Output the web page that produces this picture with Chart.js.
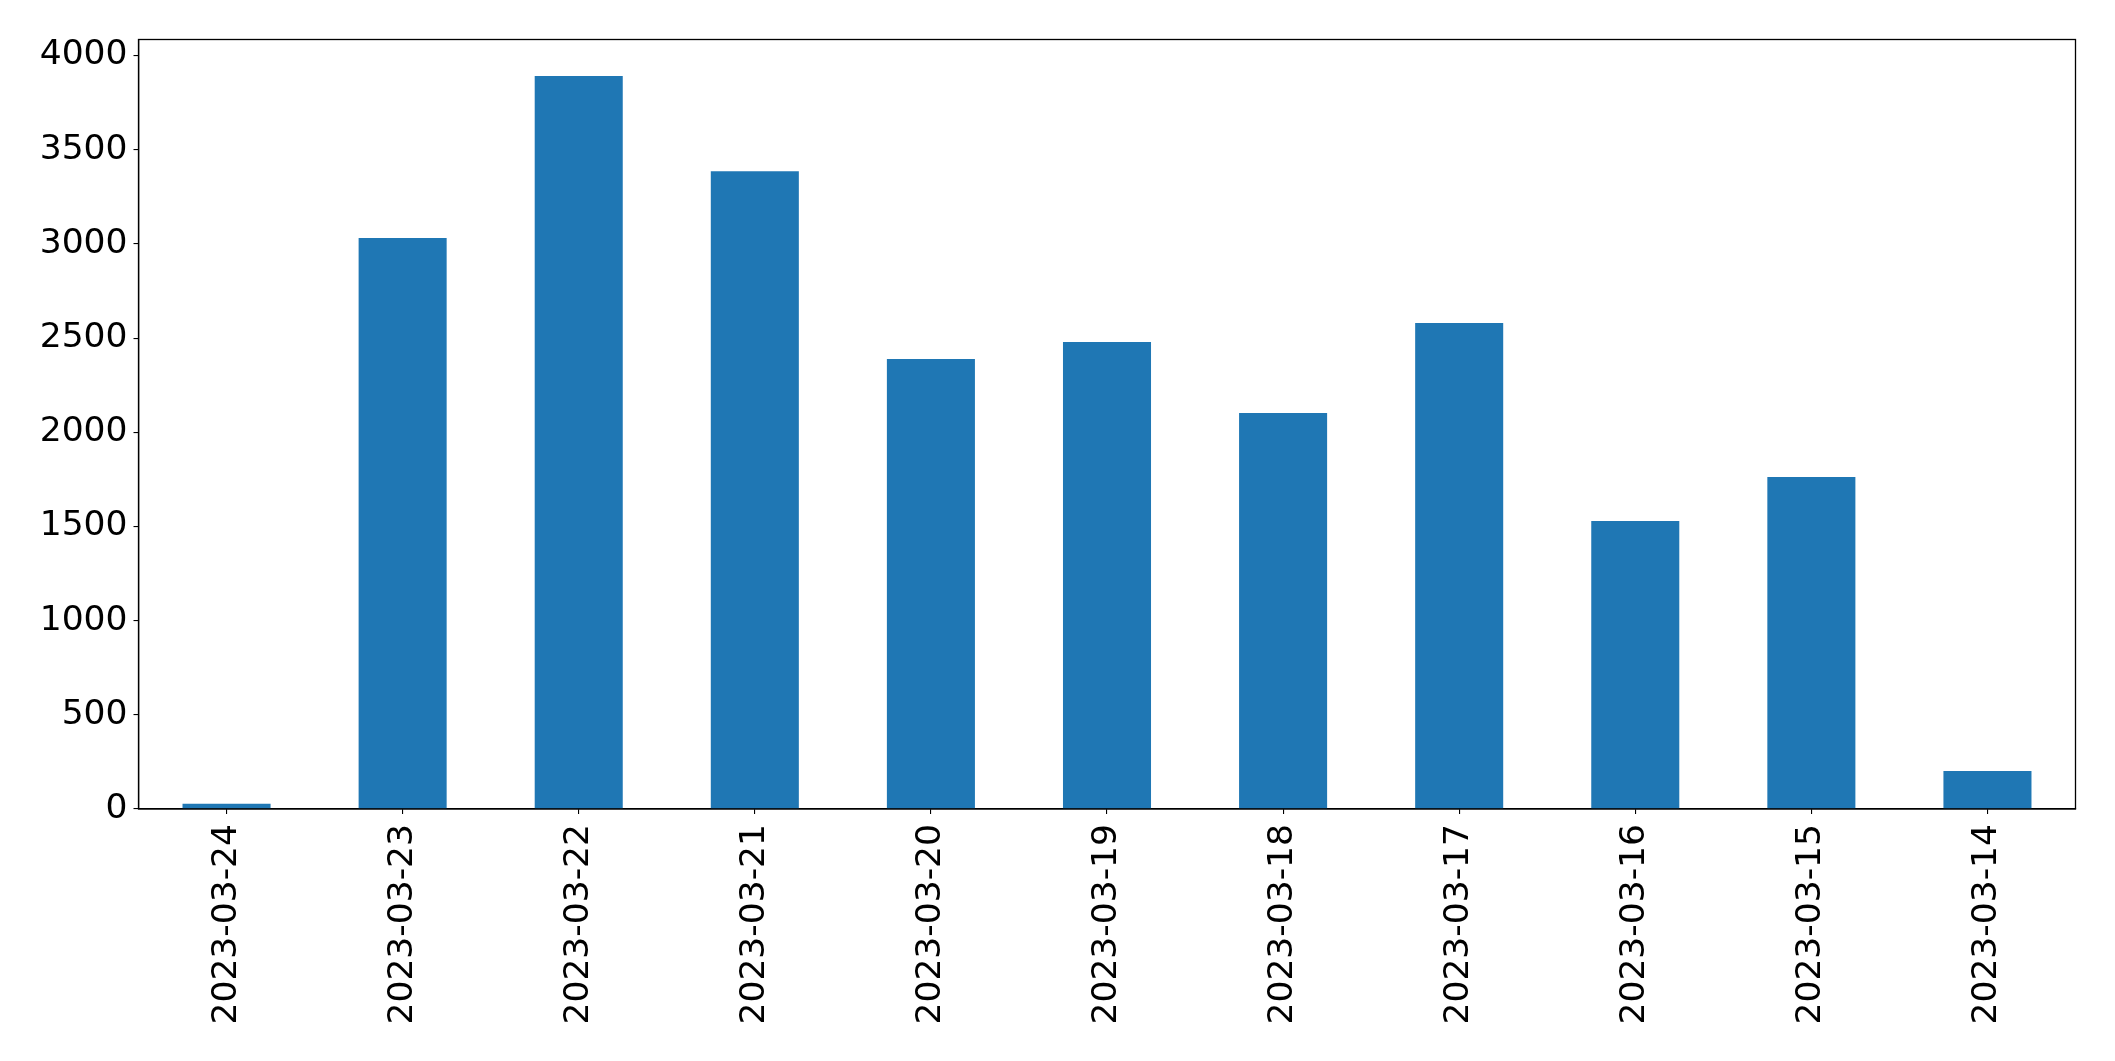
<!DOCTYPE html>
<html>
<head>
<meta charset="utf-8">
<script src="https://cdn.jsdelivr.net/npm/chart.js@4.4.0/dist/chart.umd.min.js"></script>
<style>
  html, body { margin: 0; padding: 0; background: #fff; }
  canvas { display: block; }
</style>
</head>
<body>
<canvas id="c" width="2115" height="1061"></canvas>
<script>
const categories = ["2023-03-24","2023-03-23","2023-03-22","2023-03-21","2023-03-20","2023-03-19","2023-03-18","2023-03-17","2023-03-16","2023-03-15","2023-03-14"];
const counts = [28, 3031, 3891, 3386, 2389, 2479, 2102, 2580, 1529, 1762, 202];
const yTicks = [0, 500, 1000, 1500, 2000, 2500, 3000, 3500, 4000];
const yMax = 4085;

const frame = {
  id: 'frame',
  afterDatasetsDraw(chart) {
    const a = chart.chartArea, ctx = chart.ctx;
    ctx.save();
    ctx.strokeStyle = '#000';
    ctx.lineWidth = 1.3;
    ctx.strokeRect(a.left, a.top, a.right - a.left, a.bottom - a.top);
    ctx.restore();
  }
};

Chart.defaults.color = '#000';
Chart.defaults.font.family = 'DejaVu Sans';

new Chart(document.getElementById('c'), {
  type: 'bar',
  data: {
    labels: categories,
    datasets: [{
      data: counts,
      backgroundColor: '#1f77b4',
      borderWidth: 0,
      categoryPercentage: 1.0,
      barPercentage: 0.5
    }]
  },
  options: {
    responsive: false,
    animation: false,
    devicePixelRatio: 1,
    layout: { padding: { top: 39.5, right: 39.5, left: 0, bottom: 0 } },
    plugins: { legend: { display: false }, tooltip: { enabled: false } },
    scales: {
      x: {
        offset: true,
        grid: { display: true, offset: false, drawOnChartArea: false, tickLength: 5, color: '#000', lineWidth: 1.1 },
        border: { display: true, color: '#000', width: 1.3 },
        ticks: { font: { size: 34.5 }, maxRotation: 90, minRotation: 90, padding: 10, autoSkip: false, color: '#000' },
        afterFit(s) { s.height = 252; }
      },
      y: {
        min: 0,
        max: yMax,
        grid: { display: true, drawOnChartArea: false, tickLength: 5, color: '#000', lineWidth: 1.1 },
        border: { display: true, color: '#000', width: 1.3 },
        ticks: { font: { size: 34.5 }, padding: 6, color: '#000', callback: (v) => String(v) },
        afterBuildTicks(s) { s.ticks = yTicks.map(v => ({ value: v })); },
        afterFit(s) { s.width = 138.5; }
      }
    }
  },
  plugins: [frame]
});
</script>
</body>
</html>
